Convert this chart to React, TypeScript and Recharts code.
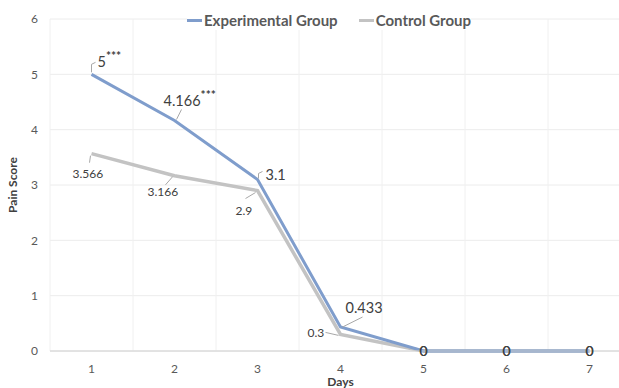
import { LineChart, Line, XAxis, YAxis, CartesianGrid, ReferenceLine, Legend } from "recharts";

const days = [1, 2, 3, 4, 5, 6, 7];
const experimental = [5, 4.166, 3.1, 0.433, 0, 0, 0];
const control = [3.566, 3.166, 2.9, 0.3, 0, 0, 0];
const expMarks = ["***", "***", "", "", "", "", ""];
const yTicks = [0, 1, 2, 3, 4, 5, 6];

const rows = days.map((d, i) => ({ day: d, exp: experimental[i], ctrl: control[i] }));
// boundaries between day bands, for the Excel-style vertical grid
const bands = [...days.map((d) => d - 0.5), days[days.length - 1] + 0.5];

const FONT = "Lato, 'Open Sans', sans-serif";
const EXP_COLOR = "#7f9dcc";
const CTRL_COLOR = "#c3c3c3";
const LEADER = "#a8a8a8";

// label placement relative to the point: text start (dx, dy) and leader polyline
const expPlace: { dx: number; dy: number; leader: number[][] }[] = [
  { dx: 6, dy: -7, leader: [[0, -2], [0, -10], [4, -12]] },
  { dx: -11, dy: -14, leader: [[2, -1], [7, -11]] },
  { dx: 8, dy: 1, leader: [[1, -1], [1, -6], [5, -8]] },
  { dx: 5, dy: -14, leader: [[2, 0], [22, -10]] },
];
const ctrlPlace: { dx: number; dy: number; leader: number[][] }[] = [
  { dx: -19, dy: 24, leader: [[-1, 2], [-2, 9]] },
  { dx: -27, dy: 20, leader: [[-2, 1], [-9, 9]] },
  { dx: -22, dy: 24, leader: [[-2, 2], [-12, 8]] },
  { dx: -33, dy: 3, leader: [[-15, -2], [-2, 1]] },
];

function makeLabel(place: typeof expPlace, size: number, marks?: string[]) {
  return function SeriesLabel(props: any) {
    const { x, y, value, index } = props;
    if (x == null || y == null) return null;
    if (value === 0) {
      return (
        <text x={x} y={y + 5} textAnchor="middle" fontSize={14} fill="#404040" fontFamily={FONT}>
          0
        </text>
      );
    }
    const p = place[index];
    if (!p) return null;
    const pts = p.leader.map(([a, b]) => `${x + a},${y + b}`).join(" ");
    const mark = marks ? marks[index] : "";
    return (
      <g>
        <polyline points={pts} fill="none" stroke={LEADER} strokeWidth={1} />
        <text x={x + p.dx} y={y + p.dy} fontSize={size} fill="#404040" fontFamily={FONT}>
          {String(value)}
          {mark && (
            <tspan fontSize={12} fontWeight="bold" dy={-7}>
              {mark}
            </tspan>
          )}
        </text>
      </g>
    );
  };
}

const ExpLabel = makeLabel(expPlace, 14.5, expMarks);
const CtrlLabel = makeLabel(ctrlPlace, 12);

function LegendContent() {
  const item = (color: string, name: string, gap: number) => (
    <div style={{ display: "flex", alignItems: "center", marginRight: gap }}>
      <div style={{ width: 15, height: 3, background: color, marginRight: 2 }} />
      <span style={{ fontFamily: FONT, fontWeight: "bold", fontSize: 15, color: "#595959", lineHeight: "19px" }}>{name}</span>
    </div>
  );
  return (
    <div style={{ display: "flex", alignItems: "center", background: "white", height: 19 }}>
      {item(EXP_COLOR, "Experimental Group", 21)}
      {item(CTRL_COLOR, "Control Group", 0)}
    </div>
  );
}

export default function App() {
  return (
    <div style={{ position: "absolute", left: 0, top: 0, width: 619, height: 388, overflow: "hidden", background: "white" }}>
      <LineChart width={640} height={388} data={rows} margin={{ top: 0, right: 9, bottom: 0, left: 0 }}>
        <CartesianGrid vertical={false} stroke="#ececec" />
        {bands.map((b) => (
          <ReferenceLine key={b} x={b} stroke="#f0f0f0" />
        ))}
        <XAxis
          dataKey="day"
          type="number"
          domain={[0.5, 7.5]}
          ticks={days}
          height={37}
          tickSize={0}
          tickMargin={13}
          axisLine={{ stroke: "#d0d0d0" }}
          tickLine={false}
          tick={{ fill: "#595959", fontSize: 12, fontFamily: FONT }}
          label={{ value: "Days", position: "insideBottom", offset: 2, fill: "#404040", fontSize: 12, fontWeight: "bold", fontFamily: FONT }}
        />
        <YAxis
          domain={[0, 6]}
          ticks={yTicks}
          width={50}
          tickSize={0}
          tickMargin={12}
          axisLine={false}
          tickLine={false}
          tick={{ fill: "#595959", fontSize: 12, fontFamily: FONT }}
          label={{ value: "Pain Score", angle: -90, position: "center", dx: -12, fill: "#404040", fontSize: 12, fontWeight: "bold", fontFamily: FONT }}
        />
        <Legend
          verticalAlign="top"
          height={19}
          content={<LegendContent />}
          wrapperStyle={{ top: 11, left: 187, width: "auto" }}
        />
        <Line
          dataKey="ctrl"
          name="Control Group"
          stroke={CTRL_COLOR}
          strokeWidth={3.5}
          dot={false}
          activeDot={false}
          isAnimationActive={false}
          label={<CtrlLabel />}
        />
        <Line
          dataKey="exp"
          name="Experimental Group"
          stroke={EXP_COLOR}
          strokeWidth={3}
          dot={false}
          activeDot={false}
          isAnimationActive={false}
          label={<ExpLabel />}
        />
      </LineChart>
    </div>
  );
}
